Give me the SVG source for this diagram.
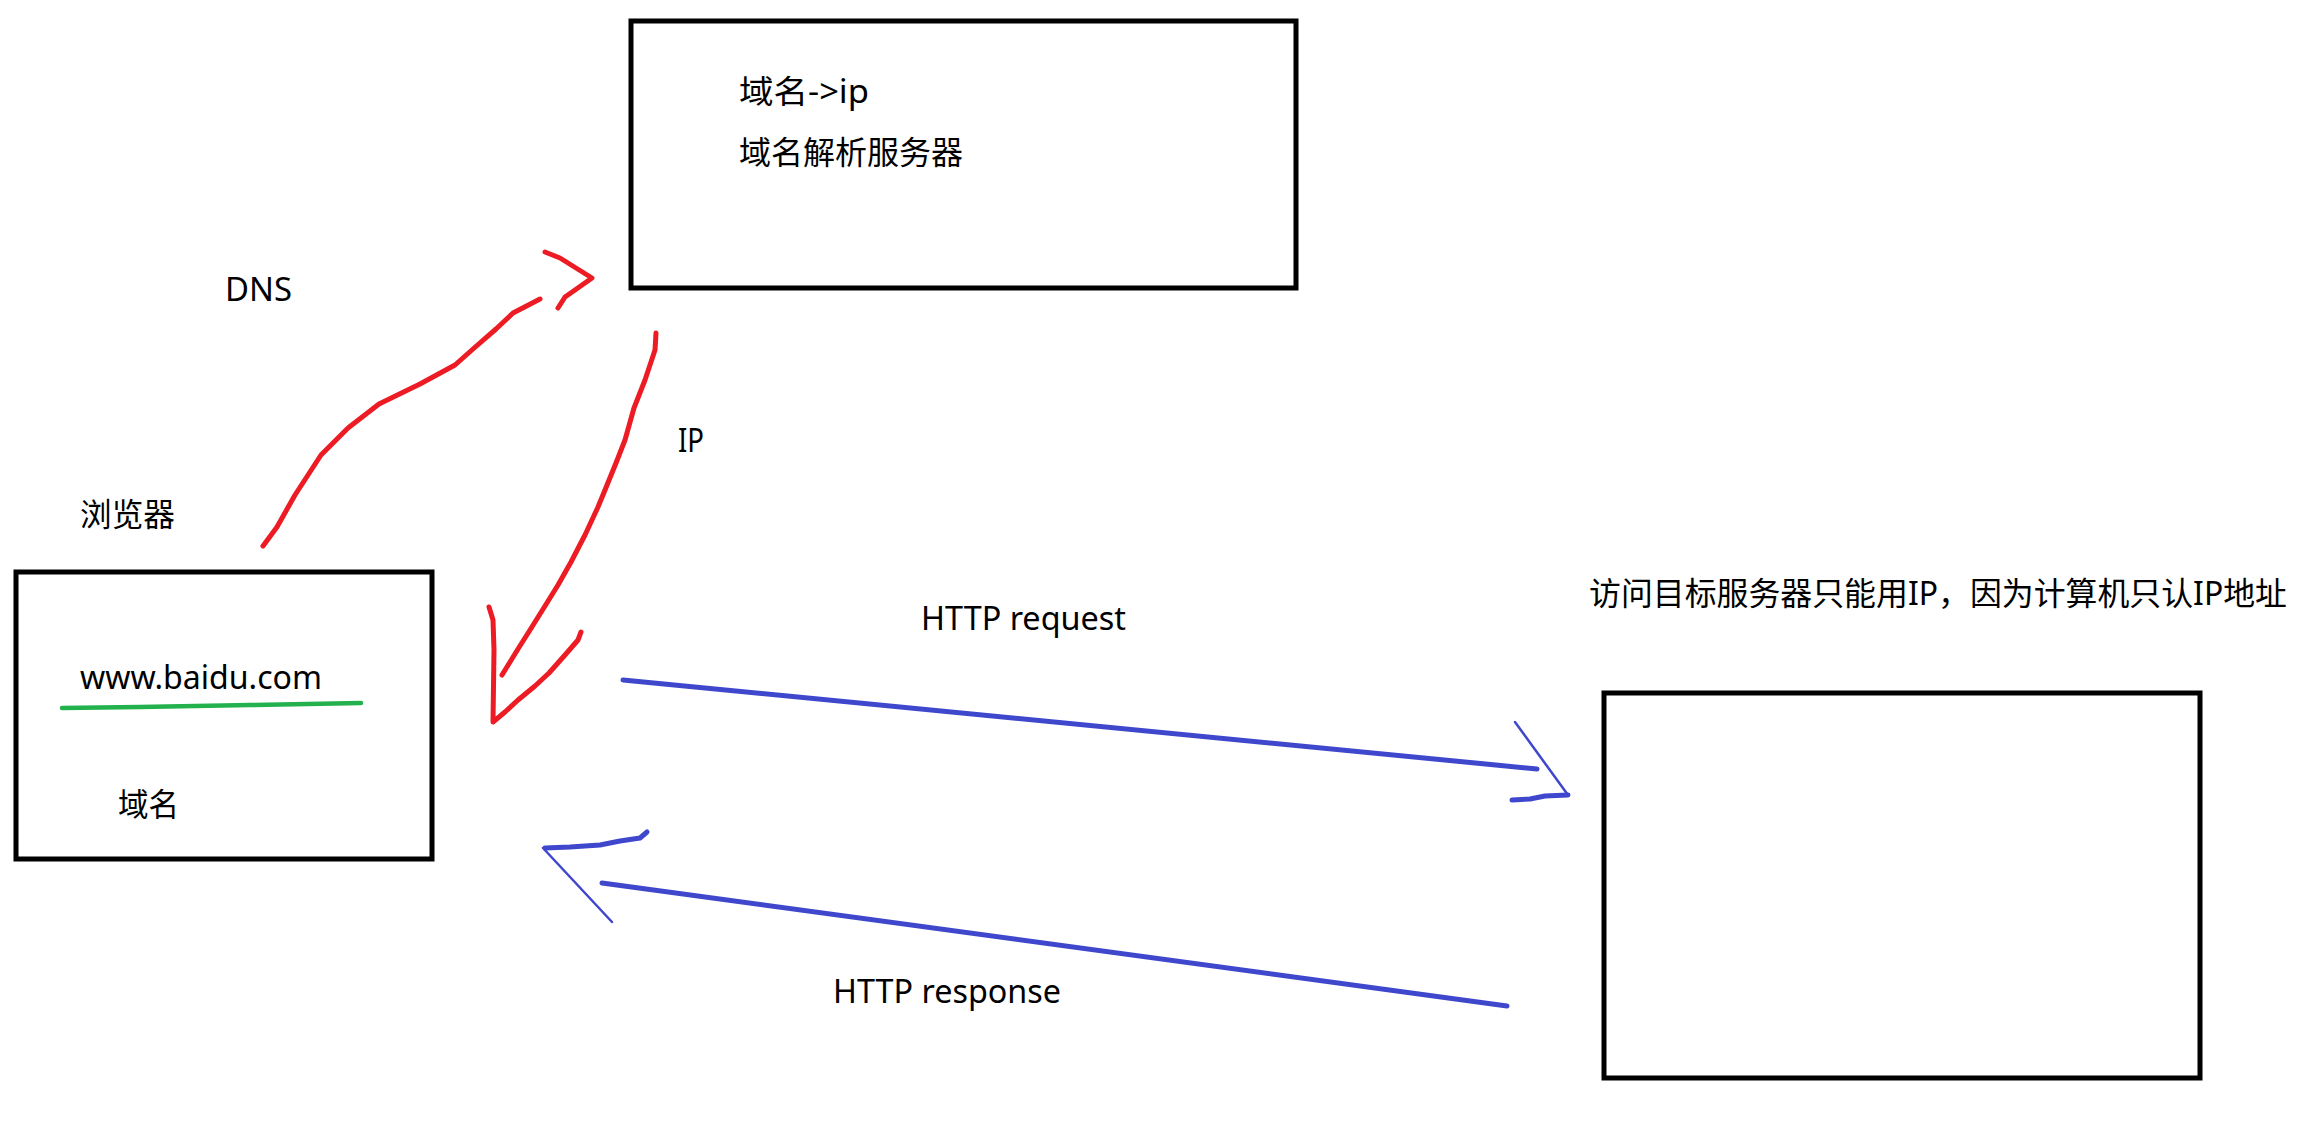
<svg xmlns="http://www.w3.org/2000/svg" width="2318" height="1141" viewBox="0 0 2318 1141">
<style>
.box{fill:none;stroke:#000;stroke-width:5}
.t{font-family:"Noto Sans","Noto Sans CJK SC",sans-serif;font-size:32px;fill:#000}
.red{fill:none;stroke:#ed1c24;stroke-width:5;stroke-linecap:round;stroke-linejoin:round}
.blue{fill:none;stroke:#3f48cc;stroke-width:5;stroke-linecap:round;stroke-linejoin:round}
.blue-thin{fill:none;stroke:#3f48cc;stroke-width:2.5;stroke-linecap:round}
</style>
<rect width="2318" height="1141" fill="#fff"/>
<g id="dns-server">
<rect class="box" x="631" y="21" width="665" height="267"/>
<text class="t" x="739" y="103" textLength="130" lengthAdjust="spacingAndGlyphs">域名-&gt;ip</text>
<text class="t" x="739" y="164" textLength="224" lengthAdjust="spacingAndGlyphs">域名解析服务器</text>
</g>
<g id="browser">
<rect class="box" x="16" y="572" width="416" height="287"/>
<text class="t" x="80" y="526" textLength="95" lengthAdjust="spacingAndGlyphs">浏览器</text>
<text class="t" x="80" y="689" textLength="242" lengthAdjust="spacingAndGlyphs">www.baidu.com</text>
<polyline points="62,708 140,707 250,705 361,703" fill="none" stroke="#22b14c" stroke-width="4.5" stroke-linecap="round"/>
<text class="t" x="118" y="816" textLength="61" lengthAdjust="spacingAndGlyphs">域名</text>
</g>
<g id="target-server">
<rect class="box" x="1604" y="693" width="596" height="385"/>
<text class="t" x="1589" y="605" textLength="698" lengthAdjust="spacingAndGlyphs">访问目标服务器只能用IP，因为计算机只认IP地址</text>
</g>
<g id="connectors">
<polyline class="red" points="263,546 277,527 295,495 321,455 348,428 379,404 420,384 455,365 473,349 496,329 513,313 540,299"/>
<polyline class="red" points="545,252 560,258 576,268 592,278 575,290 565,297 558,308"/>
<polyline class="red" points="656,333 655,350 645,380 634,408 625,440 616,463 605,490 598,507 585,535 571,562 558,585 545,606 530,630 518,649 502,675"/>
<polyline class="red" points="489,607 493,620 494,650 493,722 505,712 518,700 535,686 549,673 565,655 578,640 581,632"/>
<line class="blue" x1="623" y1="680" x2="1537" y2="769"/>
<line class="blue-thin" x1="1515" y1="722" x2="1568" y2="795"/>
<polyline class="blue" points="1568,795 1545,796 1530,799 1512,800"/>
<line class="blue" x1="1507" y1="1006" x2="602" y2="883"/>
<polyline class="blue" points="647,832 640,838 620,841 600,845 570,847 545,848"/>
<line class="blue-thin" x1="543" y1="848" x2="612" y2="922"/>
</g>
<g id="labels">
<text class="t" x="225" y="301" textLength="67" lengthAdjust="spacingAndGlyphs">DNS</text>
<text class="t" x="678" y="452" textLength="26" lengthAdjust="spacingAndGlyphs">IP</text>
<text class="t" x="921" y="630" textLength="205" lengthAdjust="spacingAndGlyphs">HTTP request</text>
<text class="t" x="833" y="1003" textLength="228" lengthAdjust="spacingAndGlyphs">HTTP response</text>
</g>
</svg>
